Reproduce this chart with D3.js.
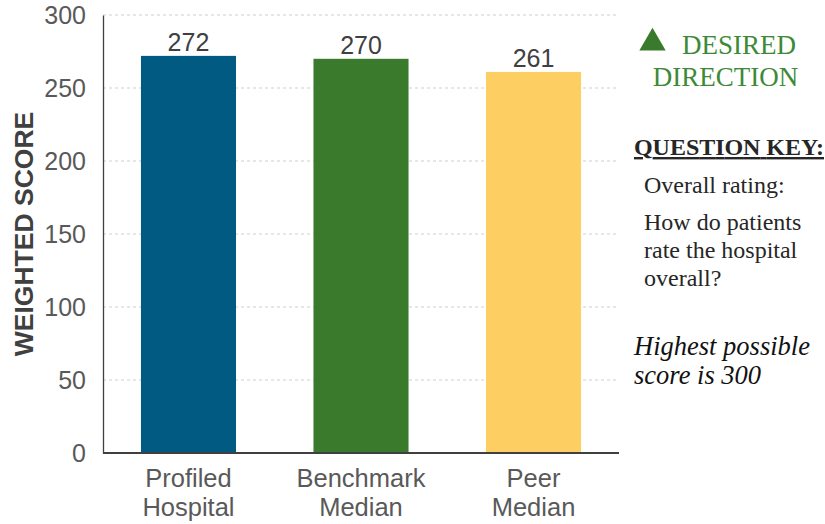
<!DOCTYPE html>
<html><head><meta charset="utf-8">
<script src="https://cdn.jsdelivr.net/npm/d3@7"></script>
<style>body{margin:0;background:#fff}svg{display:block}</style>
</head><body>
<script>
const categories = [["Profiled","Hospital"],["Benchmark","Median"],["Peer","Median"]];
const values = [272, 270, 261];
const barColors = ["#005a82", "#3a7a2c", "#fdcf63"];
const yTicks = [0, 50, 100, 150, 200, 250, 300];
const yTitle = "WEIGHTED SCORE";
const directionText = ["DESIRED", "DIRECTION"];
const keyTitle = "QUESTION KEY:";
const keyLines = ["Overall rating:", "How do patients", "rate the hospital", "overall?"];
const noteLines = ["Highest possible", "score is 300"];

const W = 825, H = 524;
const svg = d3.select("body").append("svg").attr("width", W).attr("height", H);
const sans = "Liberation Sans, Arial, sans-serif";
const serif = "Liberation Serif, Times New Roman, serif";

const y = d3.scaleLinear().domain([0, 300]).range([453, 15]);
const x = d3.scaleBand().domain(d3.range(values.length)).range([103, 619]).paddingInner(0.449).paddingOuter(0.22);
const plotRight = 619;

// gridlines
svg.append("g").selectAll("line").data(yTicks.filter(d => d > 0)).join("line")
  .attr("x1", 103).attr("x2", plotRight).attr("y1", d => y(d)).attr("y2", d => y(d))
  .attr("stroke", "#cfcfcf").attr("stroke-width", 1).attr("stroke-dasharray", "3,3");

// y axis
const yAxis = svg.append("g").attr("transform", "translate(103,0)")
  .call(d3.axisLeft(y).tickValues(yTicks).tickSize(0).tickPadding(17));
yAxis.select(".domain").attr("stroke", "#404040").attr("stroke-width", 1.3);
yAxis.selectAll("text").attr("font-family", sans).attr("font-size", 25).attr("fill", "#595959");

// bars
svg.append("g").selectAll("rect").data(values).join("rect")
  .attr("x", (d, i) => x(i)).attr("width", x.bandwidth())
  .attr("y", d => y(d)).attr("height", d => y(0) - y(d))
  .attr("fill", (d, i) => barColors[i]);

// baseline
svg.append("line").attr("x1", 103).attr("x2", plotRight).attr("y1", y(0)).attr("y2", y(0))
  .attr("stroke", "#404040").attr("stroke-width", 2);

// value labels
svg.append("g").selectAll("text").data(values).join("text")
  .attr("x", (d, i) => x(i) + x.bandwidth() / 2).attr("y", d => y(d) - 5)
  .attr("text-anchor", "middle").attr("font-family", sans).attr("font-size", 25).attr("fill", "#404040")
  .text(d => d);

// category labels
const cat = svg.append("g").selectAll("text").data(categories).join("text")
  .attr("text-anchor", "middle").attr("font-family", sans).attr("font-size", 25.5).attr("fill", "#595959");
cat.each(function(d, i) {
  d3.select(this).selectAll("tspan").data(d).join("tspan")
    .attr("x", x(i) + x.bandwidth() / 2).attr("y", (t, j) => 487 + j * 28.5).text(t => t);
});

// y title
svg.append("text").attr("transform", "translate(33,234) rotate(-90)")
  .attr("text-anchor", "middle").attr("font-family", sans).attr("font-weight", "bold")
  .attr("font-size", 26.5).attr("fill", "#404040").text(yTitle);

// desired direction
svg.append("path").attr("d", d3.symbol().type(d3.symbolTriangle).size(300)())
  .attr("transform", "translate(652.5,43)").attr("fill", "#3a7a2c");
svg.append("text").attr("x", 682).attr("y", 54).attr("font-family", serif).attr("font-size", 27)
  .attr("fill", "#3d8a36").text(directionText[0]);
svg.append("text").attr("x", 725.5).attr("y", 86).attr("text-anchor", "middle").attr("font-family", serif).attr("font-size", 27)
  .attr("fill", "#3d8a36").text(directionText[1]);

// question key
svg.append("text").attr("x", 634).attr("y", 155).attr("font-family", serif).attr("font-weight", "bold")
  .attr("font-size", 24).attr("fill", "#262626").attr("text-decoration", "underline").attr("textLength", 190).text(keyTitle);
svg.append("g").selectAll("text").data(keyLines).join("text")
  .attr("x", 644).attr("y", (d, i) => [193, 230, 258, 286][i])
  .attr("font-family", serif).attr("font-size", 24).attr("fill", "#262626").text(d => d);

// note
svg.append("g").selectAll("text").data(noteLines).join("text")
  .attr("x", 634).attr("y", (d, i) => 355 + i * 29)
  .attr("font-family", serif).attr("font-style", "italic").attr("font-size", 26.5).attr("fill", "#111").text(d => d);
</script>
</body></html>
